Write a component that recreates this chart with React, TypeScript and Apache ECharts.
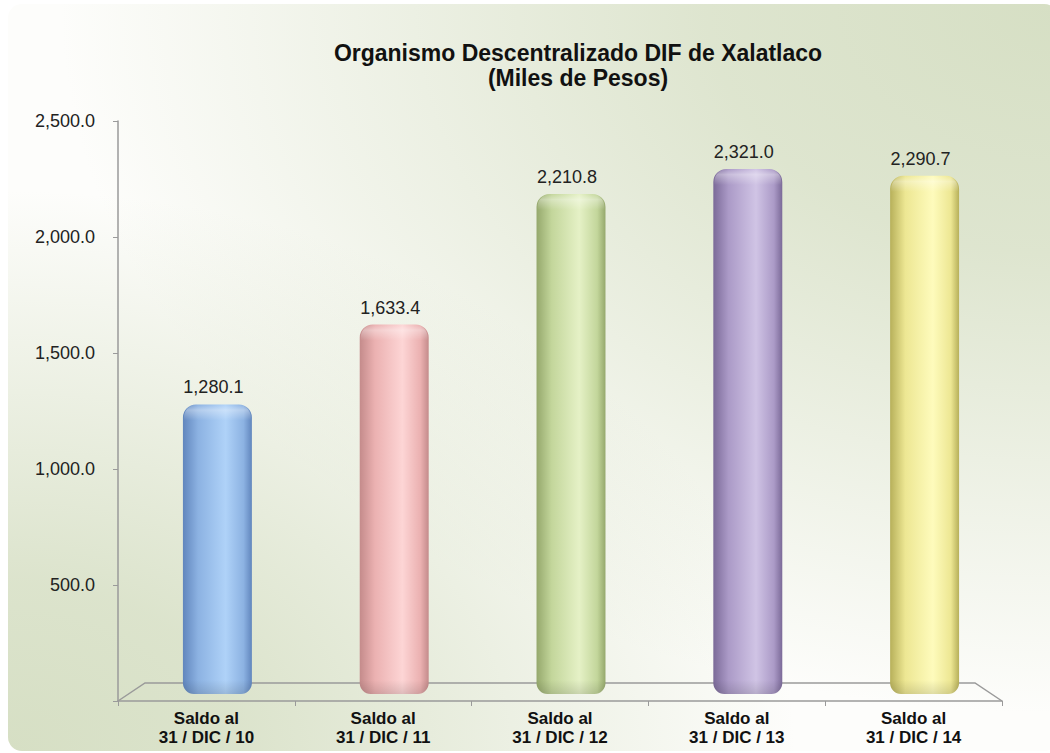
import React, { useEffect, useRef } from "react";
import * as echarts from "echarts";

const categories = [
  "Saldo al\n31 / DIC / 10",
  "Saldo al\n31 / DIC / 11",
  "Saldo al\n31 / DIC / 12",
  "Saldo al\n31 / DIC / 13",
  "Saldo al\n31 / DIC / 14",
];
const values = [1280.1, 1633.4, 2210.8, 2321.0, 2290.7];
const yTicks = [0, 500, 1000, 1500, 2000, 2500];
// [dark, mid, light] per cylinder
const barShades = [
  ["#6186bd", "#8cb2e2", "#afd2f8"],
  ["#c48b8b", "#ebb1b1", "#fdd5d5"],
  ["#95a86c", "#c3d69b", "#e5f1c6"],
  ["#7b6a98", "#ab9ac7", "#d0c4e5"],
  ["#b7b05a", "#ede793", "#fefbbc"],
];
const titleText = "Organismo Descentralizado DIF de Xalatlaco\n(Miles de Pesos)";

const FONT = "'Liberation Sans', Arial, sans-serif";
const fmt = (v: number) =>
  v.toLocaleString("en-US", { minimumFractionDigits: 1, maximumFractionDigits: 1 });

export default function App() {
  const ref = useRef<HTMLDivElement>(null);
  useEffect(() => {
    document.body.style.margin = "0";
    const chart = echarts.init(ref.current!, undefined, { renderer: "svg" });
    const green = "rgba(214,223,196,1)";
    const green0 = "rgba(214,223,196,0)";
    chart.setOption({
      animation: false,
      backgroundColor: "#ffffff",
      title: {
        text: titleText,
        left: 573,
        top: 35,
        textAlign: "center",
        textStyle: { fontFamily: FONT, fontSize: 23, fontWeight: "bold", color: "#111", lineHeight: 25 },
      },
      graphic: [
        {
          type: "rect",
          z: -10,
          silent: true,
          shape: { x: 8, y: 4, width: 1050, height: 747, r: 14 },
          style: { fill: "#fdfdfb" },
        },
        {
          type: "rect",
          z: -9,
          silent: true,
          shape: { x: 8, y: 4, width: 1050, height: 747, r: 14 },
          style: {
            fill: {
              type: "radial", x: 1, y: 0, r: 0.95,
              colorStops: [{ offset: 0, color: green }, { offset: 0.35, color: "rgba(214,223,196,0.8)" }, { offset: 1, color: green0 }],
            },
          },
        },
        {
          type: "rect",
          z: -9,
          silent: true,
          shape: { x: 8, y: 4, width: 1050, height: 747, r: 14 },
          style: {
            fill: {
              type: "radial", x: 0, y: 1, r: 0.75,
              colorStops: [{ offset: 0, color: green }, { offset: 0.3, color: "rgba(214,223,196,0.85)" }, { offset: 1, color: green0 }],
            },
          },
        },
        {
          type: "polyline",
          z: 1,
          silent: true,
          shape: { points: [[118, 701], [145, 683], [975, 683], [1002, 701]] },
          style: { stroke: "#9a9a9a", lineWidth: 1.5, fill: "none" },
        },
      ],
      grid: { left: 118, right: 48, top: 121, bottom: 52 },
      xAxis: {
        type: "category",
        data: categories,
        axisLine: { show: true, lineStyle: { color: "#9a9a9a", width: 1.5 } },
        axisTick: { show: true, length: 5, lineStyle: { color: "#9a9a9a" } },
        axisLabel: { fontFamily: FONT, fontSize: 17, fontWeight: "bold", color: "#111", lineHeight: 19, margin: 8 },
      },
      yAxis: {
        type: "value",
        min: yTicks[0],
        max: yTicks[yTicks.length - 1],
        interval: 500,
        splitLine: { show: false },
        axisLine: { show: true, lineStyle: { color: "#9a9a9a", width: 1.5 } },
        axisTick: { show: true, length: 5, lineStyle: { color: "#9a9a9a" } },
        axisLabel: {
          fontFamily: FONT, fontSize: 18, color: "#222", margin: 23,
          formatter: (v: number) => (v === 0 ? "" : fmt(v)),
        },
      },
      series: [
        {
          type: "custom",
          z: 5,
          data: values.map((v, i) => [i, v]),
          renderItem: (params: any, api: any) => {
            const i = api.value(0);
            const v = api.value(1);
            const base = api.coord([i, 0]);
            const top = api.coord([i, v]);
            const w = api.size([1, 0])[0] * 0.39;
            const cx = base[0] + 11;
            const by = base[1] - 7;
            const h = (base[1] - top[1]) * 0.975;
            const ty = by - h;
            const [dark, mid, light] = barShades[i];
            return {
              type: "group",
              children: [
                {
                  type: "rect",
                  shape: { x: cx - w / 2, y: ty, width: w, height: h, r: [13, 13, 11, 11] },
                  style: {
                    fill: {
                      type: "linear", x: 0, y: 0, x2: 1, y2: 0,
                      colorStops: [
                        { offset: 0, color: dark },
                        { offset: 0.22, color: mid },
                        { offset: 0.62, color: light },
                        { offset: 0.88, color: mid },
                        { offset: 1, color: dark },
                      ],
                    },
                  },
                },
                {
                  type: "rect",
                  shape: { x: cx - w / 2 + 1, y: ty, width: w - 2, height: 16, r: [13, 13, 0, 0] },
                  style: {
                    fill: {
                      type: "linear", x: 0, y: 0, x2: 0, y2: 1,
                      colorStops: [
                        { offset: 0, color: "rgba(255,255,255,0.0)" },
                        { offset: 0.35, color: "rgba(255,255,255,0.35)" },
                        { offset: 1, color: "rgba(255,255,255,0)" },
                      ],
                    },
                  },
                },
                {
                  type: "rect",
                  shape: { x: cx - w / 2, y: by - 14, width: w, height: 14, r: [0, 0, 11, 11] },
                  style: {
                    fill: {
                      type: "linear", x: 0, y: 0, x2: 0, y2: 1,
                      colorStops: [
                        { offset: 0, color: "rgba(0,0,0,0)" },
                        { offset: 1, color: "rgba(0,0,0,0.12)" },
                      ],
                    },
                  },
                },
                {
                  type: "text",
                  style: {
                    text: fmt(v), x: cx - 4, y: ty - 8,
                    align: "center", verticalAlign: "bottom",
                    font: `18px ${FONT}`, fill: "#222",
                  },
                },
              ],
            };
          },
        },
      ],
    });
    return () => chart.dispose();
  }, []);
  return <div ref={ref} style={{ width: 1050, height: 753 }} />;
}
